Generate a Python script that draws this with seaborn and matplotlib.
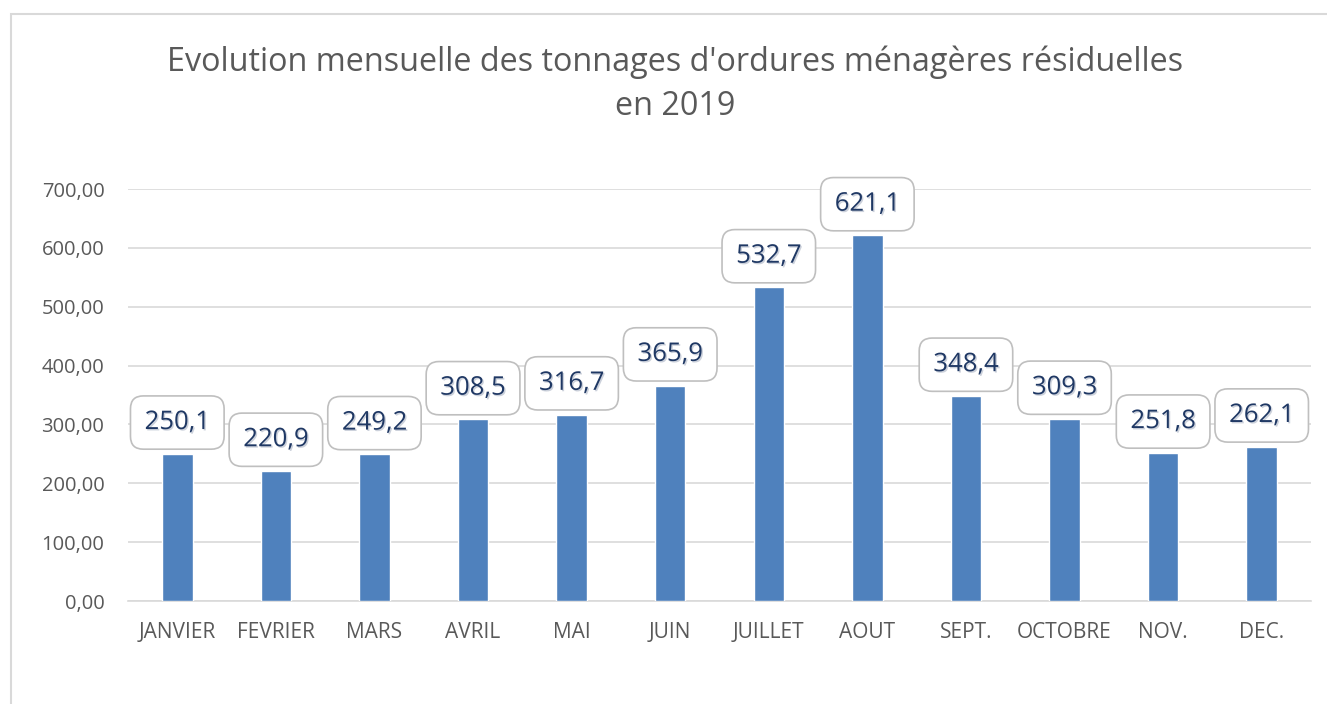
import matplotlib
matplotlib.use("Agg")
import matplotlib.pyplot as plt
import matplotlib.patheffects as pe
from matplotlib.patches import Rectangle
from matplotlib.ticker import FuncFormatter
import seaborn as sns
import pandas as pd

months = ["JANVIER", "FEVRIER", "MARS", "AVRIL", "MAI", "JUIN", "JUILLET",
          "AOUT", "SEPT.", "OCTOBRE", "NOV.", "DEC."]
tonnages = [250.1, 220.9, 249.2, 308.5, 316.7, 365.9, 532.7, 621.1, 348.4, 309.3, 251.8, 262.1]
yticks = [0, 100, 200, 300, 400, 500, 600, 700]
title = "Evolution mensuelle des tonnages d'ordures ménagères résiduelles\nen 2019"

sns.set_theme(style="white")
plt.rcParams['font.family'] = ['Open Sans', 'DejaVu Sans']

df = pd.DataFrame({"mois": months, "tonnage": tonnages})

fig = plt.figure(figsize=(13.27, 7.04), dpi=100)
ax = fig.add_axes([128/1327, 103/704, (1311-128)/1327, (601-189)/704])

sns.barplot(data=df, x="mois", y="tonnage", color="#4F81BD", saturation=1,
            width=0.31, ax=ax, zorder=3)

ax.set_ylim(0, 700)
ax.set_xlim(-0.5, len(months) - 0.5)
ax.set_yticks(yticks)
ax.yaxis.set_major_formatter(FuncFormatter(lambda v, p: f"{v:.2f}".replace(".", ",")))
ax.grid(axis="y", color="#D9D9D9", lw=1.2, zorder=0)
ax.grid(axis="x", visible=False)
for s in ["top", "right", "left"]:
    ax.spines[s].set_visible(False)
ax.spines["bottom"].set_color("#D9D9D9")
ax.spines["bottom"].set_linewidth(1.2)
ax.tick_params(axis="y", length=0, labelsize=14.5, colors="#595959", pad=17)
ax.tick_params(axis="x", length=0, labelsize=15, colors="#595959", pad=15)
ax.set_xlabel("")
ax.set_ylabel("")

for i, v in enumerate(tonnages):
    t = ax.annotate(f"{v:.1f}".replace(".", ","), xy=(i, v), xytext=(0, 22.5),
                    textcoords="offset points", ha="center", va="center",
                    fontsize=18.5, color="#1F3864", zorder=5,
                    bbox=dict(boxstyle="round,pad=0.55,rounding_size=0.5",
                              fc="white", ec="#BFBFBF", lw=1.2))
    t.set_path_effects([pe.withSimplePatchShadow(offset=(1, -1), shadow_rgbFace="#9AA4B8", alpha=0.5)])

fig.text(675/1327, (704-84)/704, title, ha="center", va="center",
         fontsize=23.3, color="#595959", linespacing=1.45)

fig.patches.append(Rectangle((11/1327, -0.05), 1.1, (704-14)/704 + 0.05,
                             transform=fig.transFigure, fill=False,
                             ec="#D9D9D9", lw=1.5, zorder=0))

fig.savefig("out.png", dpi=100)
